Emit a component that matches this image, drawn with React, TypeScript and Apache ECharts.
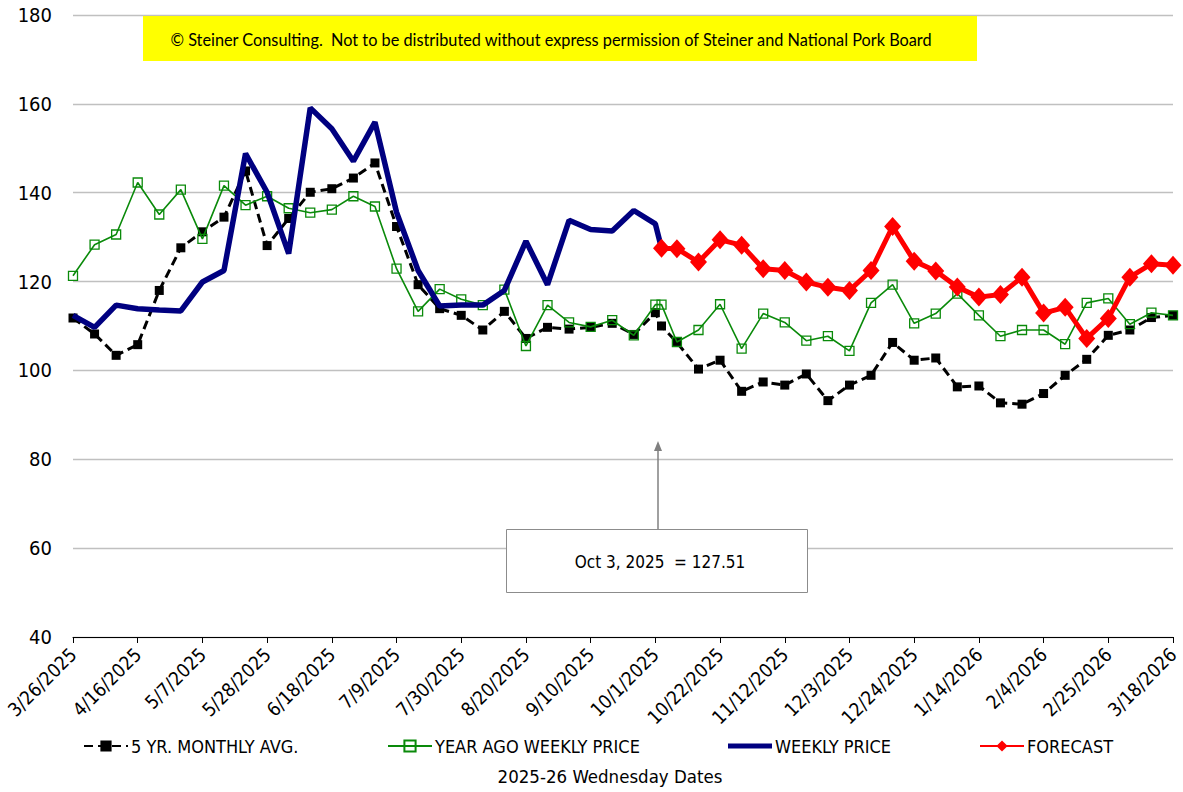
import React, { useEffect, useRef } from "react";
import * as echarts from "echarts";

// Wednesday dates (plus the Oct 3 forecast start row)
const dates = [
  "3/26/2025", "4/2/2025", "4/9/2025", "4/16/2025", "4/23/2025", "4/30/2025", "5/7/2025",
  "5/14/2025", "5/21/2025", "5/28/2025", "6/4/2025", "6/11/2025", "6/18/2025", "6/25/2025",
  "7/2/2025", "7/9/2025", "7/16/2025", "7/23/2025", "7/30/2025", "8/6/2025", "8/13/2025",
  "8/20/2025", "8/27/2025", "9/3/2025", "9/10/2025", "9/17/2025", "9/24/2025", "10/1/2025",
  "10/3/2025", "10/8/2025", "10/15/2025", "10/22/2025", "10/29/2025", "11/5/2025", "11/12/2025",
  "11/19/2025", "11/26/2025", "12/3/2025", "12/10/2025", "12/17/2025", "12/24/2025", "12/31/2025",
  "1/7/2026", "1/14/2026", "1/21/2026", "1/28/2026", "2/4/2026", "2/11/2026", "2/18/2026",
  "2/25/2026", "3/4/2026", "3/11/2026", "3/18/2026",
];

const tickLabels = [
  "3/26/2025", "4/16/2025", "5/7/2025", "5/28/2025", "6/18/2025", "7/9/2025", "7/30/2025",
  "8/20/2025", "9/10/2025", "10/1/2025", "10/22/2025", "11/12/2025", "12/3/2025", "12/24/2025",
  "1/14/2026", "2/4/2026", "2/25/2026", "3/18/2026",
];

const fiveYrAvg = [
  111.8, 108.2, 103.4, 105.8, 118.0, 127.6, 131.2, 134.5, 144.9, 128.1,
  134.2, 140.1, 140.9, 143.3, 146.7, 132.4, 119.3, 113.9, 112.4, 109.1,
  113.3, 107.2, 109.7, 109.3, 109.7, 110.6, 108.1, 113.0,
  110.0,
  106.3, 100.3, 102.3, 95.3, 97.4, 96.7, 99.2, 93.2, 96.7, 98.9,
  106.3, 102.3, 102.8, 96.3, 96.5, 92.7, 92.4, 94.8, 98.9, 102.5,
  107.9, 109.1, 111.9, 112.4,
];

const yearAgo = [
  121.3, 128.3, 130.6, 142.3, 135.1, 140.7, 129.6, 141.6, 137.2, 139.2,
  136.5, 135.5, 136.2, 139.2, 136.9, 122.9, 113.3, 118.3, 116.0, 114.7,
  118.2, 105.5, 114.7, 110.8, 109.8, 111.3, 107.9, 114.8,
  114.8,
  106.4, 109.1, 114.9, 104.9, 112.8, 110.8, 106.7, 107.7, 104.4, 115.2,
  119.3, 110.6, 112.8, 117.3, 112.4, 107.7, 109.1, 109.1, 105.9, 115.2,
  116.2, 110.4, 113.0, 112.4,
];

const weekly: (number | null)[] = [
  112.4, 109.7, 114.7, 113.9, 113.6, 113.4, 119.9, 122.5, 148.8, 140.1,
  126.3, 159.1, 154.4, 147.1, 155.9, 135.6, 122.5, 114.5, 114.7, 114.7,
  118.0, 129.1, 119.3, 133.8, 131.7, 131.4, 136.0, 133.0,
  127.51,
  null, null, null, null, null, null, null, null, null, null,
  null, null, null, null, null, null, null, null, null, null,
  null, null, null, null,
];

const forecast: (number | null)[] = [
  null, null, null, null, null, null, null, null, null, null,
  null, null, null, null, null, null, null, null, null, null,
  null, null, null, null, null, null, null, null,
  127.51,
  127.4, 124.4, 129.4, 128.2, 122.9, 122.5, 119.9, 118.7, 118.0, 122.5,
  132.4, 124.6, 122.4, 118.8, 116.5, 117.1, 121.0, 112.9, 114.2, 107.2,
  111.7, 121.0, 124.0, 123.7,
];

const seriesNames = ["5 YR. MONTHLY AVG.", "YEAR AGO WEEKLY PRICE", "WEEKLY PRICE", "FORECAST"];
const watermark =
  "© Steiner Consulting.  Not to be distributed without express permission of Steiner and National Pork Board";
const annotation = "Oct 3, 2025  = 127.51";
const xAxisTitle = "2025-26 Wednesday Dates";

const START = Date.UTC(2025, 2, 26);
const dayOffset = (s: string) => {
  const [m, d, y] = s.split("/").map(Number);
  return Math.round((Date.UTC(y, m - 1, d) - START) / 86400000);
};
const toPairs = (vals: (number | null)[]) =>
  dates
    .map((d, i) => (vals[i] == null ? null : [dayOffset(d), vals[i]]))
    .filter((p) => p !== null);

const FONT = '"DejaVu Sans Condensed", "DejaVu Sans", sans-serif';

export default function App() {
  const ref = useRef<HTMLDivElement>(null);

  useEffect(() => {
    if (!ref.current) return;
    const chart = echarts.init(ref.current, undefined, { renderer: "svg" });
    const legendLefts = [78, 382, 723, 974];
    const legendData: any[] = [
      { name: seriesNames[0] },
      { name: seriesNames[1] },
      { name: seriesNames[2], icon: "rect", itemStyle: { color: "#000080" } },
      { name: seriesNames[3] },
    ];
    const option: any = {
      animation: false,
      backgroundColor: "#ffffff",
      grid: { left: 73, right: 10, top: 15, bottom: 155, containLabel: false },
      xAxis: {
        type: "value",
        min: 0,
        max: 357,
        interval: 21,
        axisLine: { show: true, onZero: false, lineStyle: { color: "#000", width: 1 } },
        axisTick: { show: true, length: 6, lineStyle: { color: "#000" } },
        splitLine: { show: false },
        axisLabel: {
          rotate: 45,
          margin: 14,
          fontSize: 19,
          fontFamily: FONT,
          color: "#000",
          showMaxLabel: true,
          showMinLabel: true,
          formatter: (v: number) => tickLabels[Math.round(v / 21)] ?? "",
        },
      },
      yAxis: {
        type: "value",
        min: 40,
        max: 180,
        interval: 20,
        axisLine: { show: false },
        axisTick: { show: false },
        splitLine: { show: true, lineStyle: { color: "#c0c0c0", width: 1.3 } },
        axisLabel: { fontSize: 20, fontFamily: FONT, color: "#000", margin: 21 },
      },
      legend: legendData.map((d, i) => ({
        data: [d],
        left: legendLefts[i],
        top: 732,
        itemWidth: 44,
        itemHeight: i === 2 ? 5 : 14,
        itemGap: 0,
        textStyle: { fontSize: 18, fontFamily: FONT, color: "#000", padding: [0, 0, 0, -2] },
      })),
      series: [
        {
          name: seriesNames[0],
          type: "line",
          data: toPairs(fiveYrAvg),
          symbol: "rect",
          symbolSize: 9,
          lineStyle: { color: "#000", width: 3, type: [9, 5] },
          itemStyle: { color: "#000" },
          z: 2,
        },
        {
          name: seriesNames[1],
          type: "line",
          data: toPairs(yearAgo),
          symbol: "rect",
          symbolSize: 9,
          lineStyle: { color: "#0a8a0a", width: 1.6 },
          itemStyle: { color: "rgba(255,255,255,0)", borderColor: "#0a8a0a", borderWidth: 1.3 },
          z: 3,
        },
        {
          name: seriesNames[2],
          type: "line",
          data: toPairs(weekly),
          showSymbol: false,
          symbol: "none",
          lineStyle: { color: "#000080", width: 5.5 },
          itemStyle: { color: "#000080" },
          z: 4,
        },
        {
          name: seriesNames[3],
          type: "line",
          data: toPairs(forecast),
          symbol: "diamond",
          symbolSize: [17, 19],
          lineStyle: { color: "#ff0000", width: 5 },
          itemStyle: { color: "#ff0000" },
          z: 5,
        },
      ],
      graphic: [
        {
          type: "rect",
          z: 50,
          shape: { x: 143, y: 16, width: 834, height: 45 },
          style: { fill: "#ffff00" },
        },
        {
          type: "text",
          z: 51,
          x: 551,
          y: 39,
          style: {
            text: watermark,
            fontSize: 16.3,
            fontFamily: "Lato, sans-serif",
            fill: "#000",
            align: "center",
            verticalAlign: "middle",
          },
        },
        {
          type: "line",
          z: 50,
          shape: { x1: 658, y1: 529, x2: 658, y2: 448 },
          style: { stroke: "#808080", lineWidth: 1.5 },
        },
        {
          type: "polygon",
          z: 50,
          shape: { points: [[658, 441], [654, 451], [662, 451]] },
          style: { fill: "#808080" },
        },
        {
          type: "rect",
          z: 50,
          shape: { x: 506.5, y: 529.5, width: 301, height: 63 },
          style: { fill: "#ffffff", stroke: "#8c8c8c", lineWidth: 1 },
        },
        {
          type: "text",
          z: 51,
          x: 660,
          y: 562,
          style: {
            text: annotation,
            fontSize: 17,
            fontFamily: FONT,
            fill: "#000",
            align: "center",
            verticalAlign: "middle",
          },
        },
        {
          type: "text",
          z: 51,
          x: 610,
          y: 776,
          style: {
            text: xAxisTitle,
            fontSize: 18.5,
            fontFamily: FONT,
            fill: "#000",
            align: "center",
            verticalAlign: "middle",
          },
        },
      ],
    };
    chart.setOption(option);
    return () => chart.dispose();
  }, []);

  return (
    <div
      ref={ref}
      style={{ position: "absolute", left: 0, top: 0, width: 1183, height: 792, background: "#fff" }}
    />
  );
}
